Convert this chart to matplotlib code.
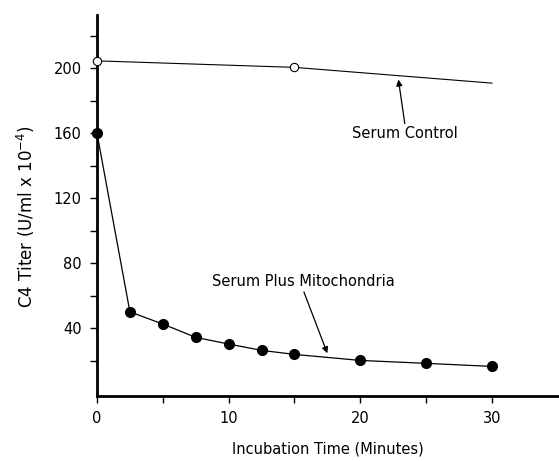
import matplotlib.pyplot as plt

# Serum plus mitochondria (filled circles)
mito_time = [0, 2.5, 5, 7.5, 10, 12.5, 15, 20, 25, 30]
mito_titer = [160, 50, 42.5, 34.3, 30.2, 26.3, 23.8, 20.1, 18.3, 16.4]

# Serum control (open circles; last point has no marker)
ctrl_time = [0, 15, 30]
ctrl_titer = [204.5, 200.5, 190.8]
ctrl_marked = [0, 1]

x_ticks = [0, 5, 10, 15, 20, 25, 30]
x_labels = ["0", "", "10", "", "20", "", "30"]
y_ticks = [20, 40, 60, 80, 100, 120, 140, 160, 180, 200, 220]
y_labels = ["", "40", "", "80", "", "120", "", "160", "", "200", ""]

plt.rcParams['font.family'] = ['DejaVu Sans']

fig = plt.figure(figsize=(5.59, 4.61), dpi=100)
ax = fig.add_axes([0.1735, 0.141, 0.8265, 0.826])

ax.plot(ctrl_time, ctrl_titer, color="black", lw=0.8, clip_on=False)
ax.plot([ctrl_time[i] for i in ctrl_marked], [ctrl_titer[i] for i in ctrl_marked],
        "o", ms=6, mfc="white", mec="black", mew=0.8, clip_on=False, zorder=5)
ax.plot(mito_time, mito_titer, "-o", color="black", lw=0.9, ms=7, clip_on=False, zorder=5)

ax.annotate("Serum Control", xy=(22.9, 193), xytext=(19.4, 159.5),
            fontsize=10.5, va="center", ha="left",
            arrowprops=dict(arrowstyle="-|>", color="black", lw=0.9,
                            shrinkA=0, shrinkB=0, mutation_scale=9,
                            relpos=(0.5, 1.0)))
ax.annotate("Serum Plus Mitochondria", xy=(17.5, 24.5), xytext=(8.7, 68.5),
            fontsize=10.5, va="center", ha="left",
            arrowprops=dict(arrowstyle="-|>", color="black", lw=0.9,
                            shrinkA=0, shrinkB=0, mutation_scale=9,
                            relpos=(0.5, 0.0)))

ax.set_xlim(0, 35.1)
ax.set_ylim(-1.8, 232.6)
ax.set_xticks(x_ticks)
ax.set_xticklabels(x_labels)
ax.set_yticks(y_ticks)
ax.set_yticklabels(y_labels)
ax.tick_params(direction="out", length=5, width=1, labelsize=10.5, pad=6)

for side in ["top", "right"]:
    ax.spines[side].set_visible(False)
for side in ["left", "bottom"]:
    ax.spines[side].set_linewidth(2)

ax.set_xlabel("Incubation Time (Minutes)", fontsize=10.5, labelpad=11)
ax.set_ylabel(r"C4 Titer (U/ml x 10$^{-4}$)", fontsize=12)
ax.yaxis.set_label_coords(-0.13, 0.47)

fig.savefig("out.png", dpi=100)
